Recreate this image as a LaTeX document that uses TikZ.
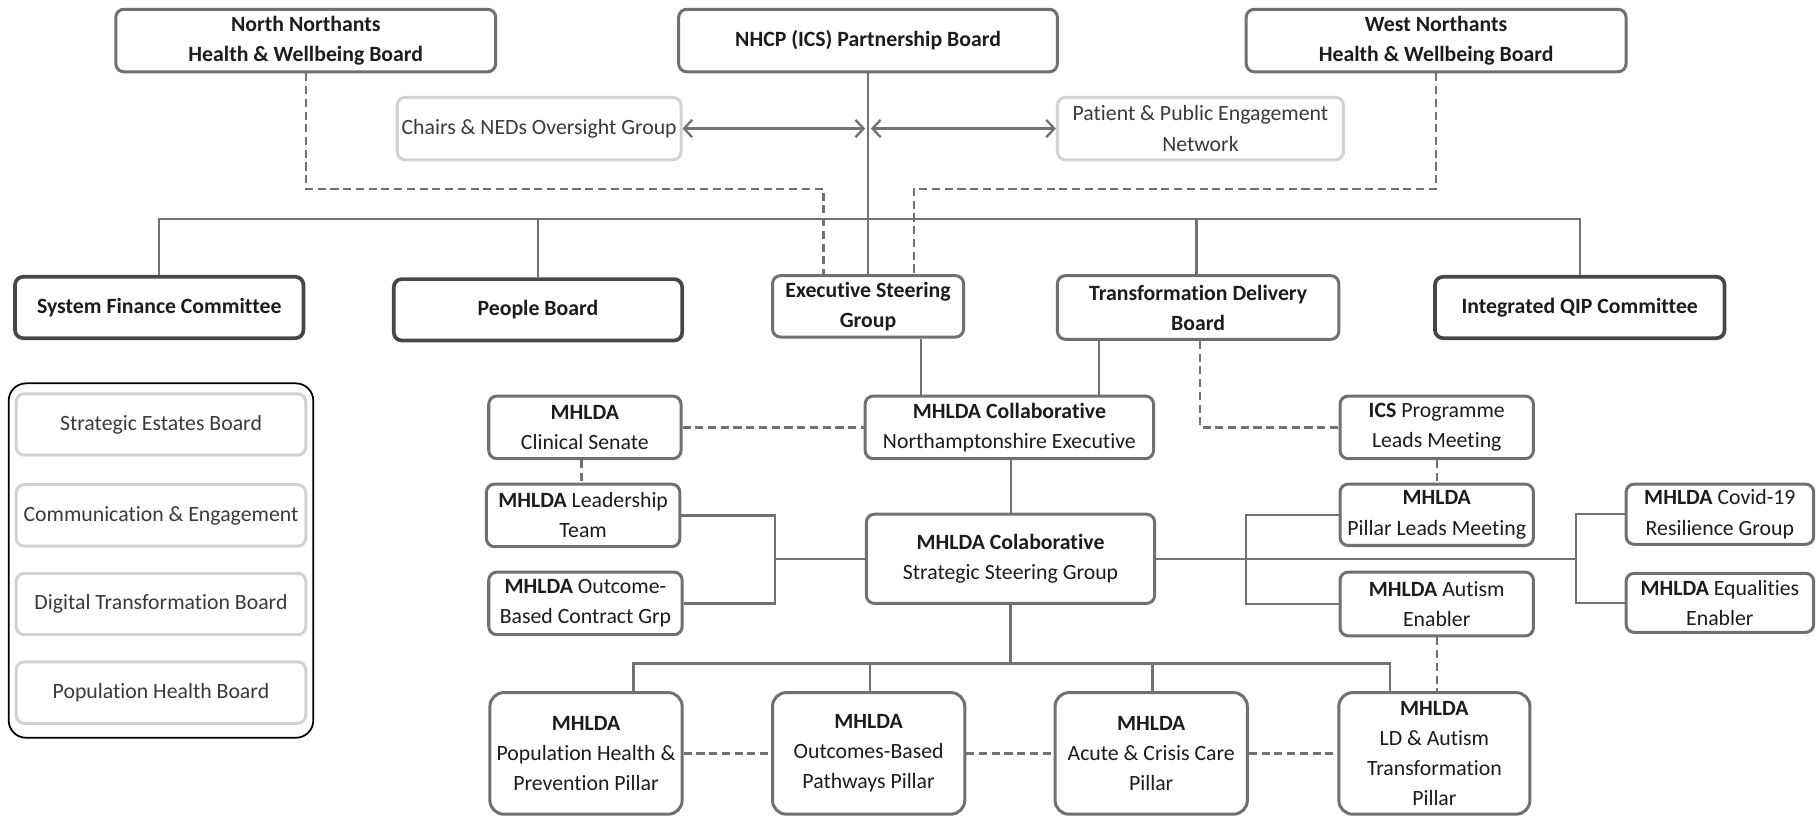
\documentclass[tikz,border=0pt]{standalone}
\usepackage{fontspec}
\setmainfont{Carlito}[Ligatures=NoCommon]
\usetikzlibrary{arrows.meta}
\definecolor{boxgray}{HTML}{707070}
\definecolor{darkline}{HTML}{474747}
\definecolor{softgray}{HTML}{D2D2D2}
\definecolor{linkgray}{HTML}{727272}
\definecolor{inkgray}{HTML}{1C1C1C}
\definecolor{softink}{HTML}{3A3A3A}
\tikzset{
  basebox/.style={rounded corners=7pt, fill=white, align=center, inner sep=0pt,
    text=inkgray, font=\fontsize{18.8}{26}\selectfont},
  box/.style={basebox, draw=boxgray, line width=2.6pt},
  darkbox/.style={basebox, draw=darkline, line width=3.2pt},
  softbox/.style={basebox, draw=softgray, line width=2.6pt, text=softink},
  pillarbox/.style={box, rounded corners=12pt},
  link/.style={draw=linkgray, line width=2pt},
  dashlink/.style={draw=linkgray, line width=2pt, dash pattern=on 7pt off 4pt},
  twoway/.style={link, {Straight Barb[length=7pt,width=15pt,line width=2pt]}-{Straight Barb[length=7pt,width=15pt,line width=2pt]}},
}
\begin{document}
\begin{tikzpicture}[x=1pt,y=-1pt]
\useasboundingbox (0,0) rectangle (1568,704);

% --- top-level boards
\node[box, minimum width=328, minimum height=54] (nn) at (264,35)
  {\textbf{North Northants}\\\textbf{Health \& Wellbeing Board}};
\node[box, minimum width=327, minimum height=54] (nhcp) at (749.5,35)
  {\textbf{NHCP (ICS) Partnership Board}};
\node[box, minimum width=328, minimum height=54] (wn) at (1240,35)
  {\textbf{West Northants}\\\textbf{Health \& Wellbeing Board}};

% --- advisory groups
\node[softbox, minimum width=245, minimum height=54] (chairs) at (465.5,111)
  {Chairs \& NEDs Oversight Group};
\node[softbox, minimum width=247, minimum height=54] (patient) at (1036.5,111)
  {Patient \& Public Engagement\\Network};

% --- committees and boards
\node[darkbox, minimum width=249, minimum height=53] (sfc) at (137.5,265.5)
  {\textbf{System Finance Committee}};
\node[darkbox, minimum width=249, minimum height=53] (people) at (464.5,267.5)
  {\textbf{People Board}};
\node[box, minimum width=165, minimum height=53] (esg) at (749.5,264.5)
  {\textbf{Executive Steering}\\\textbf{Group}};
\node[box, minimum width=243, minimum height=55] (tdb) at (1034.5,265.5)
  {\textbf{Transformation Delivery}\\\textbf{Board}};
\node[darkbox, minimum width=250, minimum height=53] (iqip) at (1364,265.5)
  {\textbf{Integrated QIP Committee}};

% --- supporting boards panel
\node[draw=black, line width=1.5pt, rounded corners=15pt, minimum width=263,
  minimum height=306, inner sep=0pt] (panel) at (139,484) {};
\node[softbox, minimum width=250, minimum height=53] (estates) at (139,366.5)
  {Strategic Estates Board};
\node[softbox, minimum width=250, minimum height=53] (comms) at (139,445)
  {Communication \& Engagement};
\node[softbox, minimum width=250, minimum height=53] (digital) at (139,521.5)
  {Digital Transformation Board};
\node[softbox, minimum width=250, minimum height=53] (pophealth) at (139,598)
  {Population Health Board};

% --- MHLDA collaborative
\node[box, minimum width=166, minimum height=54] (senate) at (505,369)
  {\textbf{MHLDA}\\Clinical Senate};
\node[box, minimum width=249, minimum height=54] (collab) at (871.5,369)
  {\textbf{MHLDA Collaborative}\\Northamptonshire Executive};
\node[box, minimum width=167, minimum height=54] (ics) at (1240.5,369)
  {\textbf{ICS} Programme\\Leads Meeting};
\node[box, minimum width=167, minimum height=54] (leader) at (503.5,445)
  {\textbf{MHLDA} Leadership\\Team};
\node[box, minimum width=167, minimum height=54] (obc) at (505.5,521)
  {\textbf{MHLDA} Outcome-\\Based Contract Grp};
\node[box, minimum width=249, minimum height=77] (ssg) at (872.5,482.5)
  {\textbf{MHLDA Colaborative}\\Strategic Steering Group};
\node[box, minimum width=167, minimum height=53] (pleads) at (1240.5,444.5)
  {\textbf{MHLDA}\\Pillar Leads Meeting};
\node[box, minimum width=167, minimum height=55] (autism) at (1240.5,521.5)
  {\textbf{MHLDA} Autism\\Enabler};
\node[box, minimum width=162, minimum height=52] (covid) at (1485,444)
  {\textbf{MHLDA} Covid-19\\Resilience Group};
\node[box, minimum width=162, minimum height=51] (equal) at (1485,520.5)
  {\textbf{MHLDA} Equalities\\Enabler};

% --- pillars
\node[pillarbox, minimum width=166, minimum height=105] (popp) at (506,650.5)
  {\textbf{MHLDA}\\Population Health \&\\Prevention Pillar};
\node[pillarbox, minimum width=166, minimum height=105] (obp) at (750,650.5)
  {\textbf{MHLDA}\\Outcomes-Based\\Pathways Pillar};
\node[pillarbox, minimum width=166, minimum height=105] (acc) at (994,650.5)
  {\textbf{MHLDA}\\Acute \& Crisis Care\\Pillar};
\node[pillarbox, minimum width=165, minimum height=105] (ldp) at (1238.5,650.5)
  {\textbf{MHLDA}\\LD \& Autism\\Transformation\\Pillar};

% --- routing points
\coordinate (topbus) at (0,189);
\coordinate (nnturn) at (711,163);
\coordinate (wnturn) at (789,163);
\coordinate (hub) at (nhcp.south |- chairs.east);
\coordinate (lbrace) at (669,0);
\coordinate (rbraceA) at (1076,0);
\coordinate (rbraceB) at (1361,0);
\coordinate (pillarbus) at (0,573);

% --- top-level links
\draw[link] (nhcp.south) -- (esg.north);
\draw[dashlink] (nn.south) |- (nnturn) -- (nnturn |- esg.north);
\draw[dashlink] (wn.south) |- (wnturn) -- (wnturn |- esg.north);
\draw[link] (sfc.north) -- (sfc.north |- topbus) -- (iqip.north |- topbus) -- (iqip.north);
\draw[link] (people.north) -- (people.north |- topbus);
\draw[link] ([xshift=-1.5pt]tdb.north) -- ([xshift=-1.5pt]tdb.north |- topbus);
\draw[twoway] (chairs.east) -- ([xshift=-2.5pt]hub);
\draw[twoway] ([xshift=2.5pt]hub) -- (patient.west);

% --- collaborative links
\draw[link] ([xshift=45.5pt]esg.south) -- ([xshift=45.5pt]esg.south |- collab.north);
\draw[link] ([xshift=-85.5pt]tdb.south) -- ([xshift=-85.5pt]tdb.south |- collab.north);
\draw[dashlink] ([xshift=1.5pt]tdb.south) |- (ics.west);
\draw[dashlink] (senate.east) -- (collab.west);
\draw[dashlink] ([xshift=-3pt]senate.south) -- ([xshift=-3pt]senate.south |- leader.north);
\draw[dashlink] (ics.south) -- (pleads.north);
\draw[link] ([xshift=1.5pt]collab.south) -- ([xshift=1.5pt]collab.south |- ssg.north);

% --- enabler brackets
\draw[link] (leader.east) -- (leader.east -| lbrace) -- (obc.east -| lbrace) -- (obc.east);
\draw[link] (ssg.west) -- (ssg.west -| lbrace);
\draw[link] (ssg.east) -- (ssg.east -| rbraceB);
\draw[link] (pleads.west) -- (pleads.west -| rbraceA) -- (autism.west -| rbraceA) -- (autism.west);
\draw[link] (covid.west) -- (covid.west -| rbraceB) -- (equal.west -| rbraceB) -- (equal.west);

% --- pillar links
\draw[link] (ssg.south) -- (ssg.south |- pillarbus);
\draw[link] ([xshift=41pt]popp.north) -- ([xshift=41pt]popp.north |- pillarbus)
  -- ([xshift=-38.5pt]ldp.north |- pillarbus) -- ([xshift=-38.5pt]ldp.north);
\draw[link] ([xshift=1pt]obp.north) -- ([xshift=1pt]obp.north |- pillarbus);
\draw[link] ([xshift=1pt]acc.north) -- ([xshift=1pt]acc.north |- pillarbus);
\draw[dashlink] (autism.south) -- (autism.south |- ldp.north);
\draw[dashlink] (popp.east) -- (obp.west);
\draw[dashlink] (obp.east) -- (acc.west);
\draw[dashlink] (acc.east) -- (ldp.west);
\end{tikzpicture}
\end{document}
